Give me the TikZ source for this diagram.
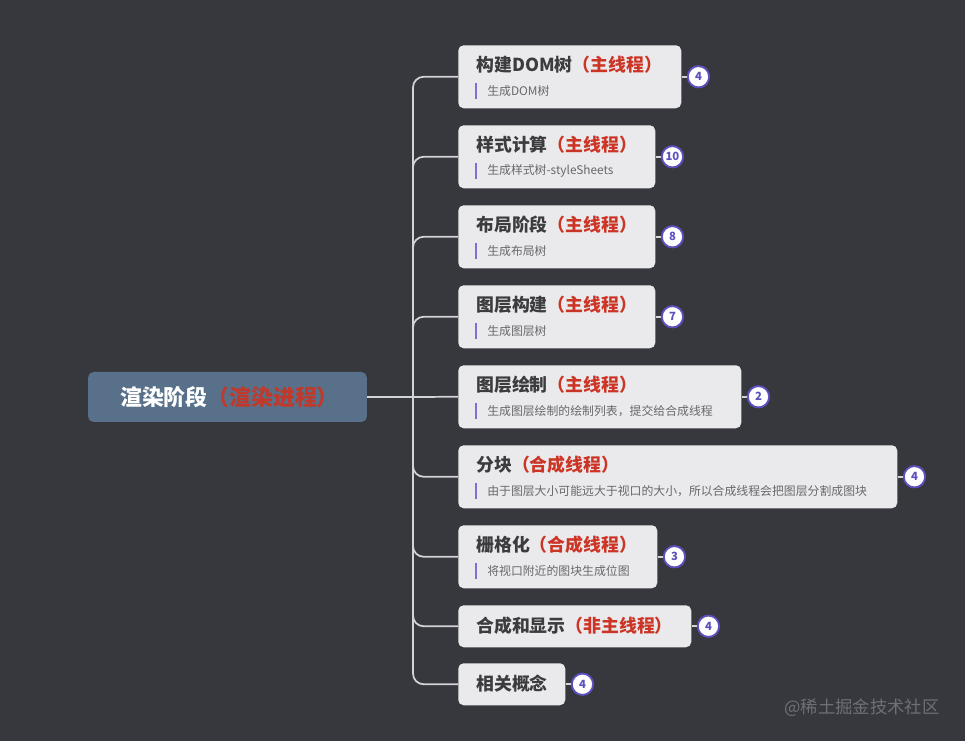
\documentclass[tikz,border=0pt]{standalone}
\usepackage{fontspec}
\setmainfont{Noto Sans CJK SC}
\usepackage{xcolor}
\usetikzlibrary{positioning}

\definecolor{bgdark}{HTML}{36383E}
\definecolor{rootblue}{HTML}{587089}
\definecolor{boxgray}{HTML}{EAEAEC}
\definecolor{titlegray}{HTML}{3C3C3E}
\definecolor{subgray}{HTML}{68686B}
\definecolor{threadred}{HTML}{CC3526}
\definecolor{rootred}{HTML}{C0392B}
\definecolor{badgeblue}{HTML}{5B50BE}
\definecolor{barblue}{HTML}{7C72D2}
\definecolor{linegray}{HTML}{D4D4D6}
\definecolor{markgray}{HTML}{6E7076}

\begin{document}
\begin{tikzpicture}[x=0.75pt, y=-0.75pt]
    \tikzset{
        root/.style={rectangle, fill=rootblue, rounded corners=4pt, minimum width=209pt, minimum height=37.5pt, font=\fontsize{16.4}{19}\selectfont\bfseries, text=white},
        branch/.style={rectangle, fill=boxgray, rounded corners=4pt, minimum height=47.25pt, anchor=north west, inner sep=0pt},
        leaf/.style={branch, minimum height=31.5pt},
        title/.style={anchor=west, inner sep=0pt, font=\fontsize{13.4}{16}\selectfont\bfseries, text=titlegray},
        sub/.style={anchor=west, inner sep=0pt, font=\fontsize{8.9}{10}\selectfont, text=subgray},
        bar/.style={draw=barblue, line width=1.3pt},
        badge/.style={rectangle, draw=badgeblue, line width=1.4pt, fill=white, rounded corners=8pt, minimum size=16pt, inner sep=1.5pt, font=\fontsize{8.5}{9}\selectfont\bfseries, text=badgeblue},
        link/.style={draw=linegray, line width=1.3pt, rounded corners=8pt}
    }

    % background
    \fill[bgdark] (0,0) rectangle (965,741);
    \useasboundingbox (0,0) rectangle (965,741);

    % root
    \node (render) [root] at (227.5,397) {渲染阶段\textcolor{rootred}{（渲染进程）}\hspace*{-3pt}};
    \coordinate (spine) at (413,397);

    % branches
    \node (dom) [branch, minimum width=167.25pt] at (458,45) {};
    \node (style) [branch, minimum width=147.75pt] at (458,125) {};
    \node (layout) [branch, minimum width=147.75pt] at (458,205) {};
    \node (layer) [branch, minimum width=147.75pt] at (458,285) {};
    \node (paint) [branch, minimum width=212.25pt] at (458,365) {};
    \node (tile) [branch, minimum width=329.25pt] at (458,445) {};
    \node (raster) [branch, minimum width=149.25pt] at (458,525) {};
    \node (composite) [leaf, minimum width=174.75pt] at (458,605) {};
    \node (concept) [leaf, minimum width=80.25pt] at (458,663) {};

    % titles
    \node (domT) [title] at (476,65) {构建DOM树\textcolor{threadred}{（主线程）}};
    \node (styleT) [title] at (476,145) {样式计算\textcolor{threadred}{（主线程）}};
    \node (layoutT) [title] at (476,225) {布局阶段\textcolor{threadred}{（主线程）}};
    \node (layerT) [title] at (476,305) {图层构建\textcolor{threadred}{（主线程）}};
    \node (paintT) [title] at (476,385) {图层绘制\textcolor{threadred}{（主线程）}};
    \node (tileT) [title] at (476,465) {分块\textcolor{threadred}{（合成线程）}};
    \node (rasterT) [title] at (476,545) {栅格化\textcolor{threadred}{（合成线程）}};
    \node (compositeT) [title] at (476,626) {合成和显示\textcolor{threadred}{（非主线程）}};
    \node (conceptT) [title] at (476,684) {相关概念};

    % notes
    \node (domS) [sub] at (487,91) {生成DOM树};
    \node (styleS) [sub] at (487,171) {生成样式树-styleSheets};
    \node (layoutS) [sub] at (487,251) {生成布局树};
    \node (layerS) [sub] at (487,331) {生成图层树};
    \node (paintS) [sub] at (487,411) {生成图层绘制的绘制列表，提交给合成线程};
    \node (tileS) [sub] at (487,491) {由于图层大小可能远大于视口的大小，所以合成线程会把图层分割成图块};
    \node (rasterS) [sub] at (487,571) {将视口附近的图块生成位图};
    \draw[bar] (476,83) -- (476,99);
    \draw[bar] (476,163) -- (476,179);
    \draw[bar] (476,243) -- (476,259);
    \draw[bar] (476,323) -- (476,339);
    \draw[bar] (476,403) -- (476,419);
    \draw[bar] (476,483) -- (476,499);
    \draw[bar] (476,563) -- (476,579);

    % counts
    \node (domN) [badge, right=4pt of dom] {4};
    \node (styleN) [badge, right=4pt of style] {10};
    \node (layoutN) [badge, right=4pt of layout] {8};
    \node (layerN) [badge, right=4pt of layer] {7};
    \node (paintN) [badge, right=4pt of paint] {2};
    \node (tileN) [badge, right=4pt of tile] {4};
    \node (rasterN) [badge, right=4pt of raster] {3};
    \node (compositeN) [badge, right=4pt of composite] {4};
    \node (conceptN) [badge, right=4pt of concept] {4};

    % connectors
    \draw[link] (render.east) -- (spine);
    \draw[link] (spine) |- (dom.west);
    \draw[link] (spine) |- (style.west);
    \draw[link] (spine) |- (layout.west);
    \draw[link] (spine) |- (layer.west);
    \draw[link] (spine) -- (paint.west);
    \draw[link] (spine) |- (tile.west);
    \draw[link] (spine) |- (raster.west);
    \draw[link] (spine) |- (composite.west);
    \draw[link] (spine) |- (concept.west);
    \foreach \b in {dom, style, layout, layer, paint, tile, raster, composite, concept}
        \draw[link] (\b.east) -- (\b N.west);

    % watermark
    \node (mark) [text=markgray, font=\fontsize{13}{15}\selectfont] at (862,708) {@稀土掘金技术社区};
\end{tikzpicture}
\end{document}
